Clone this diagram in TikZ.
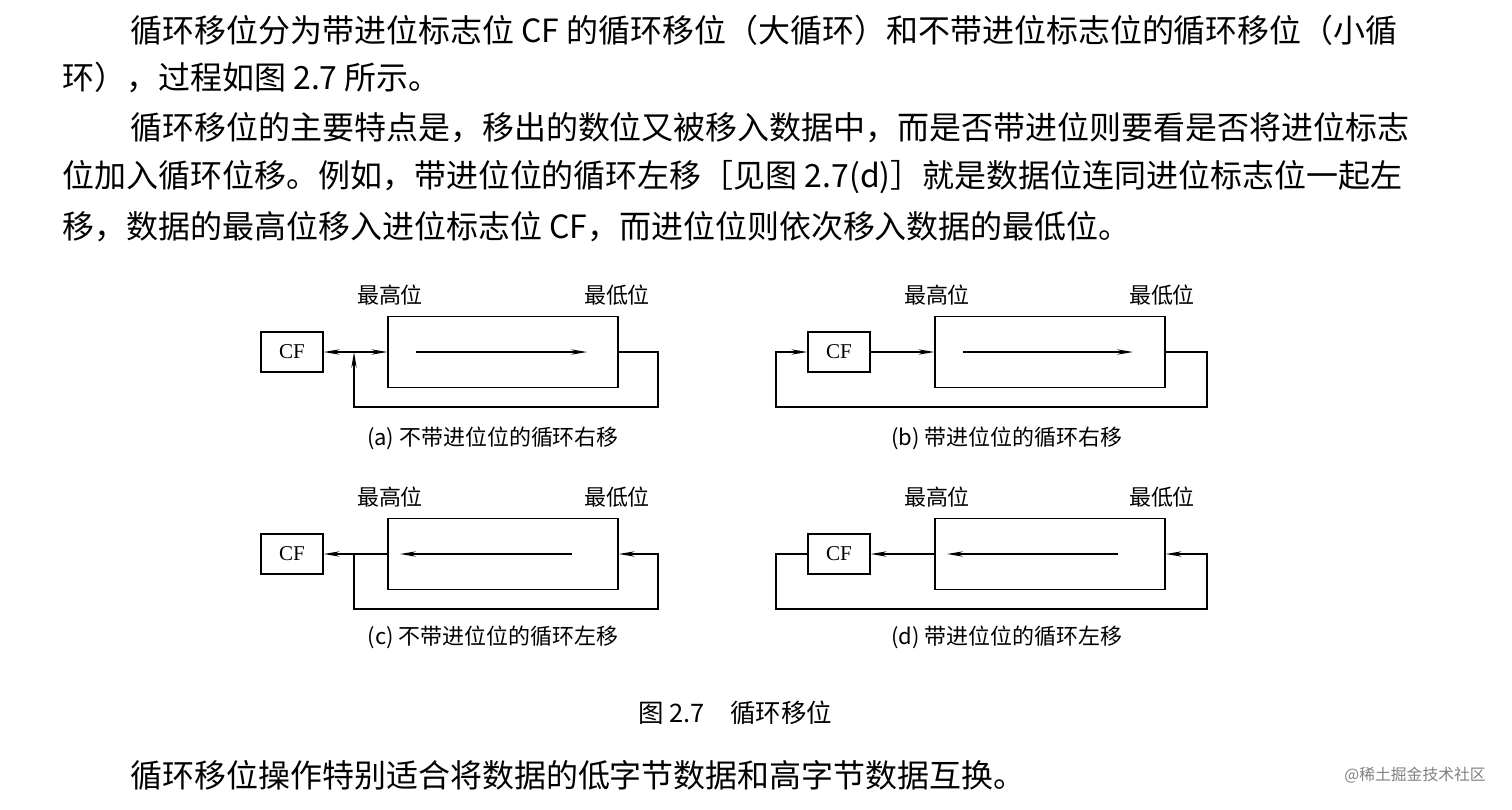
\documentclass[tikz,border=0pt]{standalone}
\usepackage{fontspec}
\setmainfont{Liberation Serif}
\newfontfamily\cjk{Noto Sans CJK SC}
\usetikzlibrary{positioning, arrows.meta}

\tikzset{
    reg/.style={draw, thick, minimum width=4.6cm, minimum height=1.42cm, inner sep=0},
    flag/.style={draw, thick, minimum width=1.24cm, minimum height=0.8cm, inner sep=0, font=\fontsize{12}{12}\selectfont},
    lbl/.style={font=\cjk\fontsize{12.5}{14}\selectfont},
    body/.style={anchor=west, inner sep=0, font=\cjk\fontsize{18.2}{20}\selectfont},
    wire/.style={thick, -{Stealth[length=9pt, width=3pt]}},
}

\begin{document}
\begin{tikzpicture}[x=0.02cm, y=-0.02cm]
    \useasboundingbox (0,0) rectangle (1512,809);
    % body text
    \node[body] (t1) at (130,30) {循环移位分为带进位标志位 CF 的循环移位（大循环）和不带进位标志位的循环移位（小循};
    \node[body] (t2) at (62,78) {环），过程如图 2.7 所示。};
    \node[body] (t3) at (130,128) {循环移位的主要特点是，移出的数位又被移入数据中，而是否带进位则要看是否将进位标志};
    \node[body] (t4) at (62,177) {位加入循环位移。例如，带进位位的循环左移［见图 2.7(d)］就是数据位连同进位标志位一起左};
    \node[body] (t5) at (62,227) {移，数据的最高位移入进位标志位 CF，而进位位则依次移入数据的最低位。};
    % (a)
    \begin{scope}
    \node[flag] (cfA) at (292,352) {CF};
    \node[reg] (boxA) at (503,352) {};
    \node[lbl] (hiA) at (390,295) {最高位};
    \node[lbl] (loA) at (617,295) {最低位};
    \coordinate (inA1) at (416,352);
    \coordinate (inA2) at (587,352);
    \coordinate (jA) at (354,352);
    \draw[wire] (inA1) -- (inA2);
    \draw[thick, {Stealth[length=9pt, width=3pt]}-{Stealth[length=9pt, width=3pt]}] (cfA.east) -- (boxA.west);
    \draw[wire] (boxA.east) -- (658,352) |- (354,407) -- (jA);
    \node[lbl] (capA) at (493,438) {(a) 不带进位位的循环右移};
    \end{scope}
    % (b)
    \begin{scope}[shift={(547,0)}]
    \node[flag] (cfB) at (292,352) {CF};
    \node[reg] (boxB) at (503,352) {};
    \node[lbl] (hiB) at (390,295) {最高位};
    \node[lbl] (loB) at (615,295) {最低位};
    \coordinate (inB1) at (416,352);
    \coordinate (inB2) at (586,352);
    \draw[wire] (inB1) -- (inB2);
    \draw[wire] (cfB.east) -- (boxB.west);
    \draw[wire] (boxB.east) -- (660,352) |- (229,407) |- (cfB.west);
    \node[lbl] (capB) at (460,438) {(b) 带进位位的循环右移};
    \end{scope}
    % (c)
    \begin{scope}[shift={(0,202)}]
    \node[flag] (cfC) at (292,352) {CF};
    \node[reg] (boxC) at (503,352) {};
    \node[lbl] (hiC) at (390,295) {最高位};
    \node[lbl] (loC) at (617,295) {最低位};
    \coordinate (inC1) at (572,352);
    \coordinate (inC2) at (400,352);
    \coordinate (jC) at (354,352);
    \draw[wire] (inC1) -- (inC2);
    \draw[wire] (boxC.west) -- (cfC.east);
    \draw[wire] (jC) -- (354,407) -| (658,352) -- (boxC.east);
    \node[lbl] (capC) at (493,435) {(c) 不带进位位的循环左移};
    \end{scope}
    % (d)
    \begin{scope}[shift={(547,202)}]
    \node[flag] (cfD) at (292,352) {CF};
    \node[reg] (boxD) at (503,352) {};
    \node[lbl] (hiD) at (390,295) {最高位};
    \node[lbl] (loD) at (615,295) {最低位};
    \coordinate (inD1) at (571,352);
    \coordinate (inD2) at (400,352);
    \draw[wire] (inD1) -- (inD2);
    \draw[wire] (boxD.west) -- (cfD.east);
    \draw[wire] (cfD.west) -| (229,407) -| (660,352) -- (boxD.east);
    \node[lbl] (capD) at (460,435) {(d) 带进位位的循环左移};
    \end{scope}
    % caption and closing line
    \node[lbl, font=\cjk\fontsize{14.5}{16}\selectfont] (fig) at (735,713) {图 2.7\quad 循环移位};
    \node[body] (t6) at (130,775) {循环移位操作特别适合将数据的低字节数据和高字节数据互换。};
    \node[font=\cjk\fontsize{9}{10}\selectfont, text=gray, anchor=east] (wm) at (1492,775) {@稀土掘金技术社区};
\end{tikzpicture}
\end{document}
